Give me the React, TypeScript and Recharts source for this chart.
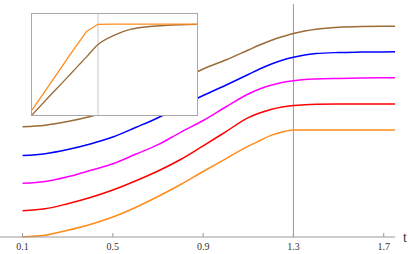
import { LineChart, Line, XAxis, YAxis, ReferenceLine } from 'recharts'

// main plot
const T = [0.1, 0.2, 0.3, 0.4, 0.5, 0.6, 0.7, 0.8, 0.9, 1.0, 1.1, 1.15, 1.2, 1.25, 1.3, 1.35, 1.4, 1.5, 1.6, 1.75]
const orange = [0.003, 0.018, 0.067, 0.125, 0.2, 0.295, 0.405, 0.525, 0.655, 0.782, 0.908, 0.962, 1.016, 1.05, 1.07, 1.07, 1.07, 1.07, 1.07, 1.07]
const red = [0.263, 0.282, 0.333, 0.395, 0.47, 0.56, 0.66, 0.775, 0.911, 1.052, 1.194, 1.24, 1.275, 1.3, 1.315, 1.323, 1.327, 1.329, 1.33, 1.33]
const magenta = [0.537, 0.555, 0.602, 0.665, 0.732, 0.827, 0.923, 1.047, 1.165, 1.3, 1.43, 1.48, 1.518, 1.546, 1.562, 1.574, 1.58, 1.586, 1.59, 1.593]
const blue = [0.815, 0.833, 0.875, 0.93, 1.0, 1.095, 1.193, 1.306, 1.415, 1.518, 1.625, 1.68, 1.728, 1.768, 1.797, 1.82, 1.834, 1.845, 1.849, 1.852]
const brown = [1.103, 1.118, 1.155, 1.205, 1.273, 1.365, 1.461, 1.572, 1.68, 1.77, 1.87, 1.92, 1.965, 2.002, 2.035, 2.06, 2.078, 2.097, 2.104, 2.107]
const xTicks = [0.1, 0.5, 0.9, 1.3, 1.7]

// inset
const T2 = [0, 0.5, 1, 1.18, 1.5, 1.66, 2, 2.5, 3, 3.5, 4, 4.5, 5]
const insetOrange = [0.054, 0.314, 0.575, 0.671, 0.833, 0.913, 0.988, 0.99, 0.99, 0.99, 0.99, 0.99, 0.99]
const insetBrown = [0, 0.193, 0.383, 0.452, 0.575, 0.636, 0.767, 0.869, 0.934, 0.961, 0.974, 0.983, 0.988]

const mainData = T.map((t, i) => ({
  t,
  orange: orange[i],
  red: red[i],
  magenta: magenta[i],
  blue: blue[i],
  brown: brown[i],
}))

const insetData = T2.map((t, i) => ({ t, orange: insetOrange[i], brown: insetBrown[i] }))

const AXIS_Y = 237
const SERIF = 'Liberation Serif'

const Tick = (props: any) => {
  const { x, payload } = props
  return (
    <g>
      <line x1={x} x2={x} y1={AXIS_Y} y2={AXIS_Y - 4} stroke="#999" />
      <text x={x} y={249.5} textAnchor="middle" fontSize={10} style={{ fontFamily: SERIF }} fill="#333">
        {payload.value}
      </text>
    </g>
  )
}

export default function App() {
  return (
    <div style={{ position: 'absolute', left: 0, top: 0, width: 409, height: 254 }}>
      <LineChart width={409} height={254} data={mainData} margin={{ top: 4, right: 14, left: 0, bottom: 0 }}>
        <XAxis
          dataKey="t"
          type="number"
          domain={[0, 1.75]}
          ticks={xTicks}
          interval={0}
          height={17}
          stroke="#999"
          tickLine={false}
          tick={<Tick />}
        />
        <YAxis hide domain={[0, 2.33]} />
        <ReferenceLine x={1.3} stroke="#999" />
        <Line type="monotone" dataKey="orange" stroke="#ff8c1a" strokeWidth={1.5} dot={false} isAnimationActive={false} />
        <Line type="monotone" dataKey="red" stroke="#ff0000" strokeWidth={1.5} dot={false} isAnimationActive={false} />
        <Line type="monotone" dataKey="magenta" stroke="#ff00ff" strokeWidth={1.5} dot={false} isAnimationActive={false} />
        <Line type="monotone" dataKey="blue" stroke="#0000ff" strokeWidth={1.5} dot={false} isAnimationActive={false} />
        <Line type="monotone" dataKey="brown" stroke="#9c6b3a" strokeWidth={1.5} dot={false} isAnimationActive={false} />
      </LineChart>

      <svg width={409} height={254} style={{ position: 'absolute', left: 0, top: 0, pointerEvents: 'none' }}>
        <text x={403} y={241.5} fontSize={14} style={{ fontFamily: SERIF }} fill="#333">t</text>
      </svg>

      <div
        style={{
          position: 'absolute',
          left: 31,
          top: 13,
          width: 167,
          height: 103,
          boxSizing: 'border-box',
          border: '1px solid #a8a8a8',
          background: '#fff',
        }}
      >
        <LineChart width={165} height={101} data={insetData} margin={{ top: 0, right: 0, left: 0, bottom: 0 }}>
          <XAxis dataKey="t" type="number" domain={[0, 5]} hide />
          <YAxis hide domain={[0, 1.1]} />
          <ReferenceLine x={2} stroke="#c8c8c8" />
          <Line type="monotone" dataKey="brown" stroke="#9c6b3a" strokeWidth={1.3} dot={false} isAnimationActive={false} />
          <Line type="linear" dataKey="orange" stroke="#ff8c1a" strokeWidth={1.3} dot={false} isAnimationActive={false} />
        </LineChart>
      </div>
    </div>
  )
}
